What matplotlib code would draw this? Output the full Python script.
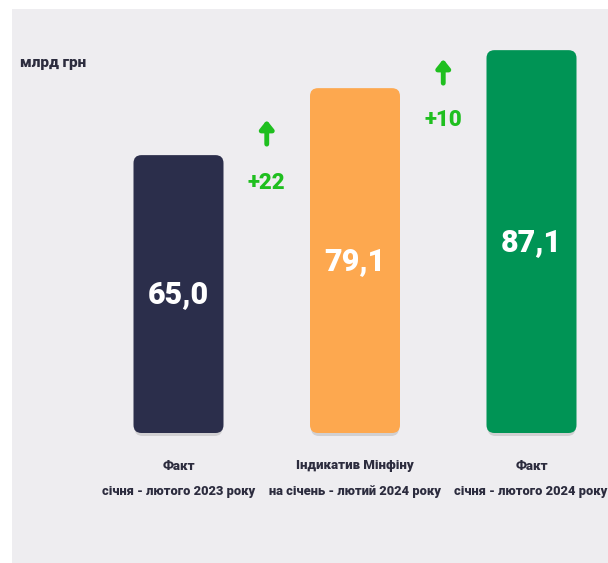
import matplotlib
matplotlib.use("Agg")
import matplotlib.pyplot as plt
from matplotlib.patches import FancyBboxPatch, Rectangle
from matplotlib.transforms import offset_copy

# ---- data ----
values = [65.0, 79.1, 87.1]
value_labels = ["65,0", "79,1", "87,1"]
cat_line1 = ["Факт", "Індикатив Мінфіну", "Факт"]
cat_line2 = ["січня - лютого 2023 року", "на січень - лютий 2024 року", "січня - лютого 2024 року"]
diff_labels = ["+22", "+10"]
unit_label = "млрд грн"

colors = ["#2b2e4b", "#fda84f", "#009455"]
dark = "#2c2c3e"
green = "#1fbf1f"
bg = "#eeedf0"
fam = "Roboto"

W, H = 608, 563
fig = plt.figure(figsize=(W / 100, H / 100), dpi=100)
fig.patch.set_facecolor("white")
fig.patches.append(Rectangle((12 / W, 0), 1, (H - 9) / H, transform=fig.transFigure,
                             facecolor=bg, edgecolor="none", zorder=-5))

ax = fig.add_axes([0, 0, 1, 1])
ax.set_facecolor("none")
ax.axis("off")
ax.set_zorder(2)

# scale: px per unit
sx, sy = 176.5, 4.75
base = 6.5
base_px = 433
ax.set_xlim(-178.5 / sx, (W - 178.5) / sx)
ax.set_ylim(base - (H - base_px) / sy, base + base_px / sy)

bw = 90 / sx
r = 8 / sx
asp = sx / sy
for i, v in enumerate(values):
    sh = FancyBboxPatch((i - bw / 2 + 1 / sx, base - 3 / sy), bw - 2 / sx, v - base,
                        boxstyle=f"round,pad=0,rounding_size={r}", mutation_aspect=asp,
                        facecolor="#000000", alpha=0.12, edgecolor="none", zorder=2)
    ax.add_patch(sh)
    p = FancyBboxPatch((i - bw / 2, base), bw, v - base,
                       boxstyle=f"round,pad=0,rounding_size={r}", mutation_aspect=asp,
                       facecolor=colors[i], edgecolor="none", zorder=3)
    ax.add_patch(p)
    ax.text(i, (v + base) / 2, value_labels[i], ha="center", va="center", color="white",
            fontsize=22, fontweight="heavy", family=fam, zorder=4)
    ax.annotate(cat_line1[i], (i, base), xytext=(0, -33), textcoords="offset pixels",
                ha="center", va="center", fontsize=9.5, fontweight="heavy", color=dark, family=fam)
    ax.annotate(cat_line2[i], (i, base), xytext=(-1 if i == 2 else 0, -59), textcoords="offset pixels",
                ha="center", va="center", fontsize=9.3, fontweight="heavy", color=dark, family=fam)

arrow_off = [23, 17]
label_off = [-28, -32]
for i, d in enumerate(diff_labels):
    x = i + 0.5
    y = values[i]
    t_head = offset_copy(ax.transData, fig=fig, x=0, y=arrow_off[i] + 12, units="dots")
    t_tail = offset_copy(ax.transData, fig=fig, x=0, y=arrow_off[i] - 12, units="dots")
    ax.annotate("", xy=(x, y), xycoords=t_head, xytext=(x, y), textcoords=t_tail,
                annotation_clip=False,
                arrowprops=dict(arrowstyle="-|>,head_width=0.4,head_length=0.5", color=green, lw=3.5,
                                shrinkA=0, shrinkB=0))
    ax.annotate(d, (x, y), xytext=(0, label_off[i]), textcoords="offset pixels",
                ha="center", va="center", fontsize=16, fontweight="heavy", color=green, family=fam)

fig.text(20 / W, 1 - 63 / H, unit_label, ha="left", va="center", fontsize=11,
         fontweight="heavy", color=dark, family=fam)

fig.savefig("out.png", dpi=100, facecolor=fig.get_facecolor())
